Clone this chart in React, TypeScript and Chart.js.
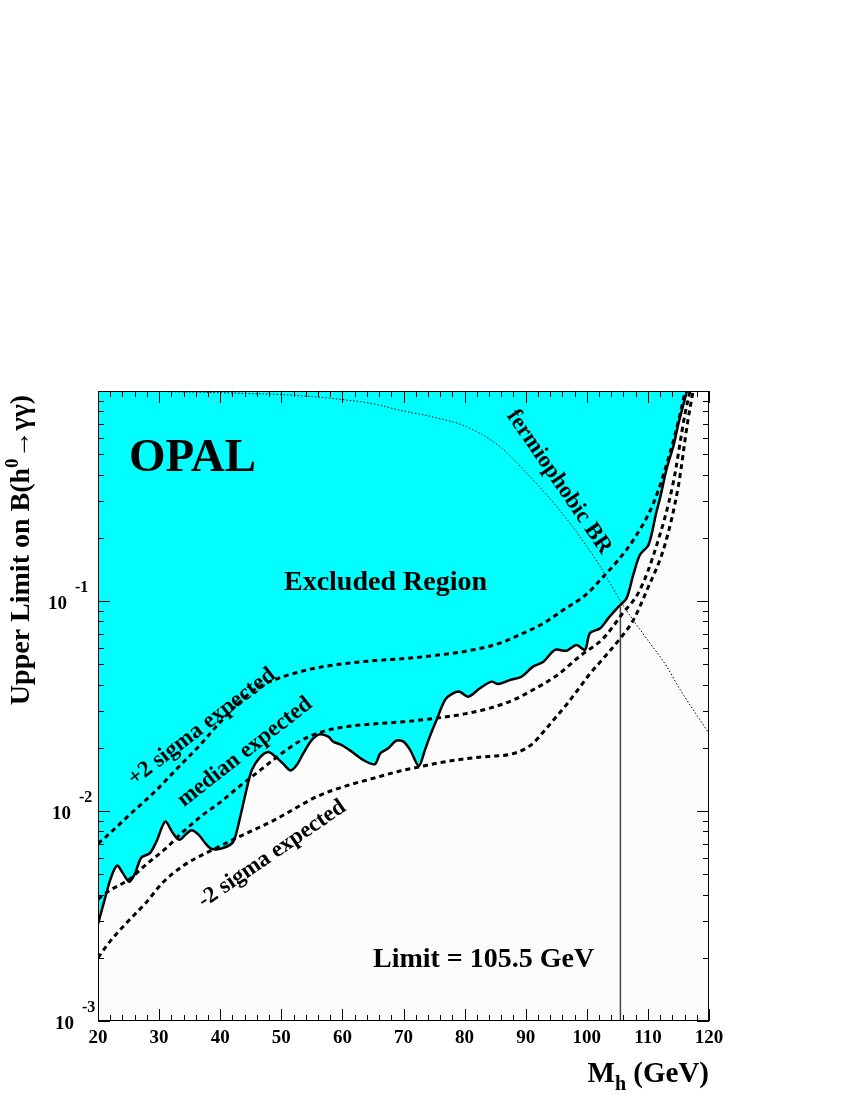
import { useEffect, useRef } from 'react';
import { Chart, registerables } from 'chart.js';

Chart.register(...registerables);

// ---------- data ----------
const massObs = [20.0, 21.0, 22.0, 23.1, 24.0, 25.1, 26.0, 27.1, 28.5, 29.6, 31.0, 32.2, 33.3, 34.3, 35.3, 36.5, 37.6, 38.6, 40.0, 41.9, 42.5, 43.5, 44.4, 45.2, 46.5, 47.9, 49.0, 50.3, 51.5, 52.5, 53.6, 55.0, 56.3, 57.7, 58.5, 59.9, 61.5, 63.4, 65.3, 66.2, 67.5, 68.8, 70.0, 71.1, 72.5, 73.5, 74.3, 75.4, 76.8, 78.0, 79.2, 80.6, 82.5, 84.4, 85.5, 87.4, 89.3, 91.2, 92.9, 94.8, 96.7, 98.3, 99.7, 100.5, 102.2, 103.5, 105.2, 106.5, 107.6, 108.7, 110.1, 111.4, 112.0, 113.1, 114.2, 115.0, 115.8, 116.4];
const limitObs = [0.0029, 0.0037, 0.0047, 0.0055, 0.0051, 0.0046, 0.0050, 0.0060, 0.0063, 0.0072, 0.0089, 0.0079, 0.0073, 0.0077, 0.0081, 0.0077, 0.0070, 0.0066, 0.0066, 0.0070, 0.0076, 0.0100, 0.0130, 0.0157, 0.0180, 0.0191, 0.0182, 0.0168, 0.0156, 0.0165, 0.0188, 0.0218, 0.0232, 0.0226, 0.0214, 0.0206, 0.0192, 0.0175, 0.0167, 0.0188, 0.0199, 0.0216, 0.0214, 0.0195, 0.0164, 0.0195, 0.0226, 0.0271, 0.0338, 0.0362, 0.0370, 0.0350, 0.0384, 0.0413, 0.0402, 0.0420, 0.0436, 0.0487, 0.0514, 0.0585, 0.0580, 0.0617, 0.0585, 0.0702, 0.0741, 0.0827, 0.0940, 0.103, 0.133, 0.166, 0.185, 0.266, 0.31, 0.43, 0.55, 0.70, 0.86, 1.0];

const massMedian = [20, 22, 25, 28, 31, 34, 37, 40, 43, 46, 49, 53, 57, 61, 66, 70, 75, 80, 84, 88, 91, 95, 99, 102.7, 105.7, 108.7, 111.4, 114.1, 116.1, 116.9];
const limitMedian = [0.0038, 0.0042, 0.0047, 0.0056, 0.0066, 0.0080, 0.0095, 0.0110, 0.0130, 0.0152, 0.0178, 0.0215, 0.0240, 0.0253, 0.0261, 0.0266, 0.0276, 0.0290, 0.0308, 0.0338, 0.0375, 0.0440, 0.0550, 0.0664, 0.0860, 0.113, 0.183, 0.36, 0.785, 1.0];

const massPlus2 = [20, 21, 25, 29.6, 33, 36.7, 40, 43.2, 46, 49.2, 53, 56.9, 62, 66, 70.5, 75, 80, 85.8, 89, 92.9, 96, 100, 102.2, 105, 107.6, 110.9, 113.6, 115.3, 116.1];
const limitPlus2 = [0.0070, 0.0074, 0.0095, 0.0126, 0.0160, 0.0206, 0.0265, 0.0330, 0.0385, 0.0425, 0.0460, 0.0487, 0.0510, 0.0522, 0.0533, 0.0550, 0.0575, 0.0630, 0.0690, 0.0783, 0.0900, 0.108, 0.126, 0.155, 0.195, 0.292, 0.505, 0.783, 1.0];

const massMinus2 = [20, 22, 25, 28, 30.4, 34, 38.6, 42.5, 49, 55.8, 60, 65, 69.4, 72.5, 76, 80.5, 84, 87.4, 89.5, 91.2, 93, 95, 97, 98.9, 100.5, 102.2, 105.4, 107.6, 109.8, 112.8, 115.0, 116.5, 117.4];
const limitMinus2 = [0.0020, 0.0024, 0.0030, 0.0037, 0.0045, 0.0055, 0.0065, 0.0074, 0.0091, 0.0117, 0.0130, 0.0143, 0.0155, 0.0162, 0.0170, 0.0178, 0.0182, 0.0186, 0.0195, 0.0210, 0.0240, 0.0281, 0.0330, 0.0390, 0.0450, 0.0513, 0.066, 0.081, 0.112, 0.186, 0.355, 0.71, 1.0];

const massFermio = [20, 30, 40, 45, 51.4, 60, 65, 69.4, 75, 80.3, 85.8, 91.2, 95.1, 98.9, 102.2, 105.4, 107.6, 110, 113.1, 115, 120];
const brFermio = [0.998, 0.994, 0.982, 0.972, 0.957, 0.91, 0.87, 0.81, 0.75, 0.676, 0.543, 0.377, 0.281, 0.202, 0.146, 0.101, 0.081, 0.065, 0.0487, 0.039, 0.0234];

const massLimit = 105.5;
const limitAtMassLimit = 0.094;

const xMajorTicks = [20, 30, 40, 50, 60, 70, 80, 90, 100, 110, 120];
const xTickLabels = ['20', '30', '40', '50', '60', '70', '80', '90', '100', '110', '120'];
const yMajorTicks = [0.001, 0.01, 0.1];
const yTickExponents = ['-3', '-2', '-1'];

const SERIF = "'Liberation Serif', 'Times New Roman', serif";

const pts = (xs: number[], ys: number[]) => xs.map((x, i) => ({ x, y: ys[i] }));

type Part = { text: string; size: number; dy?: number };

function drawRich(ctx: CanvasRenderingContext2D, parts: Part[], x: number, y: number, align: 'left' | 'center' | 'right') {
  let total = 0;
  const widths = parts.map((p) => {
    ctx.font = `bold ${p.size}px ${SERIF}`;
    const w = ctx.measureText(p.text).width;
    total += w;
    return w;
  });
  let cx = align === 'left' ? x : align === 'center' ? x - total / 2 : x - total;
  ctx.textAlign = 'left';
  ctx.textBaseline = 'alphabetic';
  parts.forEach((p, i) => {
    ctx.font = `bold ${p.size}px ${SERIF}`;
    ctx.fillText(p.text, cx, y + (p.dy || 0));
    cx += widths[i];
  });
}

const framePlugin = {
  id: 'opalFrame',
  beforeDraw(chart: any) {
    const { ctx, chartArea: a } = chart;
    ctx.save();
    ctx.fillStyle = '#fcfcfc';
    ctx.fillRect(a.left, a.top, a.right - a.left, a.bottom - a.top);
    ctx.restore();
  },
  afterDraw(chart: any) {
    const { ctx, chartArea: a } = chart;
    const xs = chart.scales.x;
    const ys = chart.scales.y;
    ctx.save();
    ctx.strokeStyle = '#000';
    ctx.lineWidth = 1;
    ctx.strokeRect(a.left + 0.5, a.top + 0.5, a.right - a.left - 1, a.bottom - a.top - 1);

    // x ticks (bottom and top, inward)
    ctx.beginPath();
    for (let v = 20; v <= 120; v += 2) {
      const px = Math.round(xs.getPixelForValue(v)) + 0.5;
      const len = v % 10 === 0 ? 12 : 6;
      ctx.moveTo(px, a.bottom);
      ctx.lineTo(px, a.bottom - len);
      ctx.moveTo(px, a.top);
      ctx.lineTo(px, a.top + len);
    }
    // y ticks (left and right, inward)
    for (let d = -3; d <= -1; d++) {
      for (let m = 1; m <= 9; m++) {
        const v = m * Math.pow(10, d);
        const py = Math.round(ys.getPixelForValue(v)) + 0.5;
        const len = m === 1 ? 12 : 6;
        ctx.moveTo(a.left, py);
        ctx.lineTo(a.left + len, py);
        ctx.moveTo(a.right, py);
        ctx.lineTo(a.right - len, py);
      }
    }
    ctx.stroke();

    ctx.fillStyle = '#000';
    // x tick labels
    ctx.font = `bold 19px ${SERIF}`;
    ctx.textAlign = 'center';
    ctx.textBaseline = 'alphabetic';
    xMajorTicks.forEach((v, i) => {
      ctx.fillText(xTickLabels[i], xs.getPixelForValue(v), a.bottom + 22);
    });
    // y tick labels 10^n
    yMajorTicks.forEach((v, i) => {
      const py = ys.getPixelForValue(v);
      const shift = yTickExponents[i] === '-1' ? -7 : yTickExponents[i] === '-2' ? -3 : 0;
      ctx.font = `bold 19px ${SERIF}`;
      ctx.textAlign = 'right';
      ctx.fillText('10', a.left - 24 + shift, py + 8);
      ctx.font = `bold 16px ${SERIF}`;
      ctx.textAlign = 'left';
      ctx.fillText(yTickExponents[i], a.left - 16 + shift, py - 9);
    });

    // axis titles
    drawRich(ctx, [
      { text: 'M', size: 29 },
      { text: 'h', size: 20, dy: 8 },
      { text: ' (GeV)', size: 29 },
    ], a.right, a.bottom + 61, 'right');

    ctx.save();
    ctx.translate(29, 550);
    ctx.rotate(-Math.PI / 2);
    drawRich(ctx, [
      { text: 'Upper Limit on B(h', size: 28 },
      { text: '0', size: 19, dy: -11 },
      { text: '\u2192\u03b3\u03b3)', size: 28 },
    ], 0, 0, 'center');
    ctx.restore();

    // annotations placed in data coordinates
    const P = (x: number, y: number) => [xs.getPixelForValue(x), ys.getPixelForValue(y)];
    ctx.textBaseline = 'alphabetic';
    let [px, py] = P(25.07, 0.416);
    ctx.font = `bold 47px ${SERIF}`;
    ctx.textAlign = 'left';
    ctx.fillText('OPAL', px, py);

    [px, py] = P(67.05, 0.1128);
    ctx.font = `bold 28px ${SERIF}`;
    ctx.textAlign = 'center';
    ctx.fillText('Excluded Region', px, py);

    [px, py] = P(65.0, 0.00181);
    ctx.textAlign = 'left';
    ctx.fillText('Limit = 105.5 GeV', px, py);

    const rot = (text: string, x: number, y: number, deg: number) => {
      const [qx, qy] = P(x, y);
      ctx.save();
      ctx.translate(qx, qy);
      ctx.rotate((deg * Math.PI) / 180);
      ctx.font = `bold 23px ${SERIF}`;
      ctx.textAlign = 'center';
      ctx.textBaseline = 'middle';
      ctx.fillText(text, 0, 0);
      ctx.restore();
    };
    rot('+2 sigma expected', 37.0, 0.0251, -37.5);
    rot('median expected', 44.06, 0.0191, -38);
    rot('-2 sigma expected', 48.48, 0.00624, -34.4);
    rot('fermiophobic BR', 95.45, 0.369, 55.6);

    ctx.restore();
  },
};

export default function App() {
  const ref = useRef<HTMLCanvasElement | null>(null);
  useEffect(() => {
    if (!ref.current) return;
    const dashed = {
      borderColor: '#000',
      borderWidth: 3,
      borderDash: [5, 4],
      pointRadius: 0,
      fill: false,
      cubicInterpolationMode: 'monotone' as const,
    };
    const chart = new Chart(ref.current, {
      type: 'line',
      data: {
        datasets: [
          {
            label: 'observed',
            data: pts(massObs, limitObs),
            borderColor: '#000',
            borderWidth: 2.5,
            pointRadius: 0,
            tension: 0.3,
            fill: 'end',
            backgroundColor: '#00ffff',
          },
          { label: '+2 sigma', data: pts(massPlus2, limitPlus2), ...dashed },
          { label: 'median', data: pts(massMedian, limitMedian), ...dashed },
          { label: '-2 sigma', data: pts(massMinus2, limitMinus2), ...dashed },
          {
            label: 'fermiophobic BR',
            data: pts(massFermio, brFermio),
            borderColor: '#000',
            borderWidth: 1,
            borderDash: [1.5, 2],
            pointRadius: 0,
            fill: false,
            cubicInterpolationMode: 'monotone' as const,
          },
          {
            label: 'limit',
            data: [
              { x: massLimit, y: 0.001 },
              { x: massLimit, y: limitAtMassLimit },
            ],
            borderColor: '#444',
            borderWidth: 1.5,
            pointRadius: 0,
            fill: false,
          },
        ],
      },
      options: {
        animation: false,
        responsive: false,
        events: [],
        layout: { padding: { left: 98, right: 141, top: 391, bottom: 79 } },
        scales: {
          x: { type: 'linear', min: 20, max: 120, display: false },
          y: { type: 'logarithmic', min: 0.001, max: 1, display: false },
        },
        plugins: {
          legend: { display: false },
          tooltip: { enabled: false },
          filler: { drawTime: 'beforeDatasetsDraw' },
        },
      } as any,
      plugins: [framePlugin],
    });
    return () => chart.destroy();
  }, []);
  return (
    <div style={{ position: 'absolute', left: 0, top: 0, width: 850, height: 1100, background: '#fff' }}>
      <canvas ref={ref} width={850} height={1100} style={{ display: 'block', width: 850, height: 1100 }} />
    </div>
  );
}
